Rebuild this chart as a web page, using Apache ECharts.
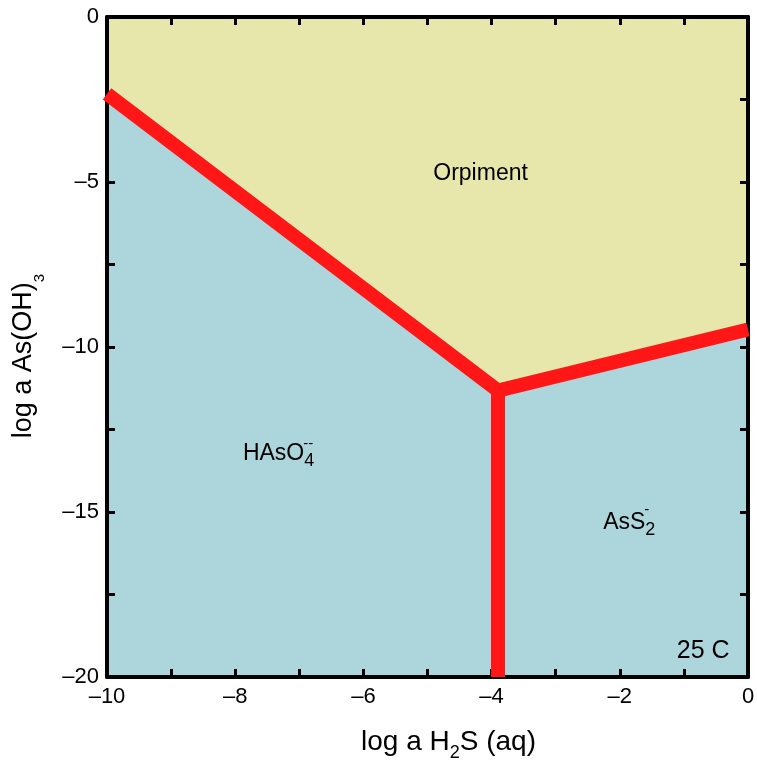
<!DOCTYPE html>
<html>
<head>
<meta charset="utf-8">
<script src="https://cdn.jsdelivr.net/npm/echarts@6/dist/echarts.min.js"></script>
<style>
  html, body { margin: 0; padding: 0; background: #fff; }
  #chart { width: 757px; height: 765px; }
</style>
</head>
<body>
<div id="chart"></div>
<script>
// stability field boundaries (log a H2S, log a As(OH)3)
const orpimentEdge = [[-10, -2.33], [-3.9, -11.32], [0, -9.47]];
const speciesEdge = [[-3.9, -11.32], [-3.9, -20]];

// field labels
const fieldText = ['Orpiment', 'HAsO{sub|4}', 'AsS{sub|2}', '25 C'];
const fieldX = [-4.91, -7.88, -2.26, -1.11];
const fieldY = [-4.75, -13.22, -15.31, -19.21];
const chargeText = ['--', '-'];
const chargeX = [-6.86, -1.58];
const chargeY = [-12.92, -14.92];

// ticks
const xLabelValues = [-10, -8, -6, -4, -2, 0];
const yLabelValues = [-20, -15, -10, -5, 0];

const font = 'Liberation Sans, Arial, sans-serif';
const red = '#ff1616';

function fmt(list) {
  return function (v) {
    if (list.indexOf(v) < 0) return '';
    return v < 0 ? '\u2013' + Math.abs(v) : String(v);
  };
}

function axis(kind, pos, show) {
  const isX = kind === 'x';
  return {
    type: 'value',
    position: pos,
    min: isX ? -10 : -20,
    max: 0,
    interval: isX ? 1 : 2.5,
    z: 2,
    axisLine: { show: true, onZero: false, lineStyle: { color: '#000', width: 4 } },
    axisTick: { show: true, inside: true, length: 8, lineStyle: { color: '#000', width: 3 } },
    splitLine: { show: false },
    axisLabel: {
      show: show,
      formatter: fmt(isX ? xLabelValues : yLabelValues),
      color: '#000',
      fontFamily: font,
      fontSize: 22,
      margin: isX ? 9 : 8
    }
  };
}

const chart = echarts.init(document.getElementById('chart'));

const xBottom = axis('x', 'bottom', true);
xBottom.name = 'log a H{sub|2}S (aq)';
xBottom.nameLocation = 'middle';
xBottom.nameGap = 45;
xBottom.nameMoveOverlap = false;
xBottom.nameTextStyle = {
  color: '#000', fontFamily: font, fontSize: 28, lineHeight: 40,
  padding: [0, 0, 0, 42],
  rich: { sub: { fontSize: 18, fontFamily: font, lineHeight: 12, verticalAlign: 'bottom', color: '#000' } }
};

const yLeft = axis('y', 'left', true);
yLeft.name = 'log a As(OH){sub|3}';
yLeft.nameLocation = 'middle';
yLeft.nameGap = 60;
yLeft.nameMoveOverlap = false;
yLeft.nameTextStyle = {
  color: '#000', fontFamily: font, fontSize: 27, lineHeight: 46,
  padding: [0, 18, 0, 0],
  rich: { sub: { fontSize: 15, fontFamily: font, lineHeight: 10, verticalAlign: 'bottom', color: '#000' } }
};

const labelRich = {
  sub: { fontSize: 18, fontFamily: font, lineHeight: 10, verticalAlign: 'bottom', color: '#000' }
};

chart.setOption({
  animation: false,
  grid: {
    left: 107, right: 9, top: 17, bottom: 88,
    show: true, backgroundColor: '#acd6dc', borderWidth: 0,
    outerBoundsMode: 'none', containLabel: false
  },
  xAxis: [xBottom, axis('x', 'top', false)],
  yAxis: [yLeft, axis('y', 'right', false)],
  series: [
    {
      type: 'line',
      z: 1,
      clip: true,
      symbol: 'none',
      data: orpimentEdge,
      lineStyle: { width: 0 },
      areaStyle: { color: '#e7e6ab', opacity: 1, origin: 'end' }
    },
    {
      type: 'line',
      z: 3,
      clip: false,
      symbol: 'none',
      data: orpimentEdge,
      lineStyle: { color: red, width: 14, join: 'miter', cap: 'butt' }
    },
    {
      type: 'line',
      z: 3,
      clip: false,
      symbol: 'none',
      data: speciesEdge,
      lineStyle: { color: red, width: 14, cap: 'butt' }
    },
    {
      type: 'scatter',
      z: 4,
      symbolSize: 0,
      silent: true,
      itemStyle: { opacity: 1 },
      data: fieldText.map(function (t, i) {
        return {
          value: [fieldX[i], fieldY[i]],
          label: {
            show: true,
            formatter: t,
            position: 'inside',
            align: 'left',
            verticalAlign: 'middle',
            color: '#000',
            opacity: 1,
            textBorderWidth: 0,
            fontFamily: font,
            fontSize: i === 3 ? 25 : 23,
            lineHeight: i === 1 || i === 2 ? 34 : 26,
            rich: labelRich
          }
        };
      })
    },
    {
      type: 'scatter',
      z: 4,
      symbolSize: 0,
      silent: true,
      itemStyle: { opacity: 1 },
      data: chargeText.map(function (t, i) {
        return {
          value: [chargeX[i], chargeY[i]],
          label: {
            show: true,
            formatter: t,
            position: 'inside',
            align: 'center',
            verticalAlign: 'middle',
            color: '#000',
            opacity: 1,
            textBorderWidth: 0,
            fontFamily: font,
            fontSize: 15
          }
        };
      })
    }
  ]
});
</script>
</body>
</html>
